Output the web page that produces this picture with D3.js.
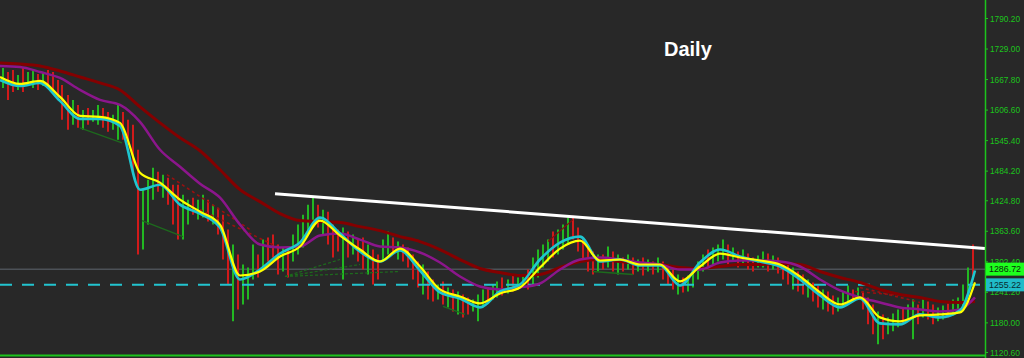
<!DOCTYPE html>
<html><head><meta charset="utf-8">
<script src="https://cdn.jsdelivr.net/npm/d3@7"></script>
<style>html,body{margin:0;padding:0;background:#282828;overflow:hidden}</style>
</head><body><svg id="c" width="1024" height="358"></svg>
<script>
// ---- data (daily bars: high / low / direction) ----
const highs=[1690,1682,1686,1676,1690,1682,1686,1678,1682,1686,
1682,1666,1656,1636,1626,1616,1606,1610,1606,1616,
1610,1602,1596,1616,1602,1586,1576,1526,1446,1466,
1490,1482,1476,1470,1456,1456,1436,1426,1430,1426,
1436,1426,1416,1410,1396,1366,1336,1316,1296,1290,
1336,1316,1346,1350,1356,1336,1330,1326,1356,1376,
1396,1416,1430,1416,1406,1402,1376,1366,1370,1362,
1356,1346,1350,1336,1326,1316,1346,1362,1350,1342,
1336,1330,1316,1302,1296,1282,1266,1256,1262,1250,
1246,1242,1236,1230,1226,1236,1246,1250,1256,1262,
1270,1266,1274,1270,1276,1286,1310,1326,1336,1346,
1362,1366,1376,1390,1394,1370,1350,1336,1322,1316,
1316,1332,1322,1316,1310,1316,1310,1306,1310,1306,
1302,1310,1302,1296,1286,1276,1270,1274,1290,1302,
1316,1326,1330,1336,1346,1336,1330,1322,1326,1318,
1310,1314,1322,1318,1314,1310,1302,1296,1290,1282,
1276,1266,1260,1254,1246,1242,1234,1230,1242,1254,
1246,1250,1242,1230,1216,1202,1196,1190,1198,1206,
1210,1216,1226,1216,1226,1222,1216,1210,1214,1218,
1226,1230,1256,1290,1336];
const lows=[1650,1626,1642,1646,1642,1656,1650,1646,1654,1650,
1642,1626,1586,1566,1576,1570,1566,1576,1582,1576,
1570,1562,1566,1546,1546,1536,1476,1316,1326,1376,
1426,1442,1430,1416,1376,1346,1346,1376,1396,1386,
1390,1382,1376,1356,1306,1256,1182,1206,1216,1226,
1266,1270,1286,1302,1310,1276,1282,1270,1302,1316,
1330,1356,1376,1370,1356,1336,1310,1322,1266,1310,
1316,1302,1286,1276,1256,1266,1302,1316,1322,1306,
1302,1290,1266,1250,1236,1226,1222,1226,1216,1210,
1202,1196,1190,1196,1202,1182,1210,1222,1226,1230,
1234,1238,1242,1246,1250,1246,1256,1270,1290,1302,
1310,1316,1326,1336,1346,1322,1302,1282,1276,1282,
1286,1290,1282,1276,1282,1286,1276,1282,1274,1282,
1276,1280,1266,1256,1246,1236,1240,1242,1250,1266,
1282,1290,1296,1302,1306,1296,1302,1290,1296,1286,
1282,1290,1290,1282,1286,1278,1266,1256,1246,1242,
1236,1230,1222,1210,1206,1202,1196,1202,1210,1218,
1222,1226,1206,1176,1156,1136,1146,1156,1162,1170,
1176,1182,1146,1176,1190,1186,1176,1182,1186,1190,
1194,1202,1206,1236,1266];
const directions="udduduudud"+"ddddududuu"+"dduudddduu"+"ududdduudu"+"ududdduduu"+
"ududdduduu"+"uuududddud"+"uddudduudu"+"dddduddudu"+"dudduuuduu"+
"duduuduuuu"+"duuudddddu"+"dududududu"+"duddduduuu"+"uduuududud"+
"duududddud"+"duddudduuu"+"duddduduuu"+"duududduud"+"uuuud";

// ---- moving averages, sampled every 4 days (last point = day 195) ----
const maDays=d3.range(0,193,4).concat([195]);
const maFast=[1672,1658,1664,1632,1594,1592,1580,1480,1460,1426,
1402,1376,1274,1282,1312,1332,1384,1354,1326,1302,
1328,1292,1246,1232,1218,1238,1250,1290,1328,1344,
1304,1306,1296,1296,1262,1292,1318,1310,1304,1296,
1272,1240,1216,1230,1190,1182,1194,1196,1200,1260];
const maSignal=[1666,1654,1660,1624,1588,1588,1574,1446,1456,1416,
1398,1370,1266,1286,1318,1340,1390,1358,1322,1302,
1324,1284,1240,1228,1210,1242,1256,1306,1340,1352,
1302,1306,1294,1294,1254,1300,1326,1312,1302,1292,
1266,1234,1210,1228,1178,1176,1196,1190,1204,1284];
const maMid=[1694,1692,1682,1670,1646,1626,1616,1582,1526,1492,
1458,1430,1376,1336,1330,1332,1354,1358,1346,1332,
1330,1320,1300,1272,1252,1246,1250,1258,1286,1306,
1310,1306,1300,1296,1286,1286,1300,1304,1304,1302,
1292,1266,1244,1230,1220,1210,1206,1202,1206,1230];
const maSlow=[1700,1698,1694,1684,1672,1660,1646,1612,1580,1550,
1524,1486,1446,1422,1398,1384,1382,1380,1372,1364,
1352,1342,1326,1306,1288,1280,1274,1276,1290,1302,
1306,1302,1298,1296,1290,1288,1292,1296,1296,1298,
1296,1282,1270,1260,1246,1236,1230,1222,1220,1222];

const tickValues=[1790.2,1729.0,1667.8,1606.6,1545.4,1484.2,1424.8,1363.6,1302.4,1241.2,1180.0,1120.6];
const tickLabels=["1790.20","1729.00","1667.80","1606.60","1545.40","1484.20","1424.80","1363.60","1302.40","1241.20","1180.00","1120.60"];
const bidLevel={value:1286.72,label:"1286.72"};
const levelLine={value:1255.22,label:"1255.22"};
const resistance=[[55,1438],[197,1328]];
const greenLines=[[[16,1570],[24.4,1540]],[[28.4,1384],[36.6,1352]],[[88.6,1212],[93,1196]],[[118.6,1282],[126.6,1276]]];
const greenDashed=[[[57,1272],[68,1306]],[[57,1272],[72,1296]],[[57,1272],[80,1282]]];
const redDashed=[[[33.4,1476],[50,1366]],[[40,1406],[55.4,1332]],[[172,1250],[184,1220]],[[171,1242],[183,1232]]];
const redLines=[[[109.6,1342],[114.6,1386]]];
const title="Daily";

// ---- drawing ----
const svg=d3.select("#c");
const W=985;
svg.append("rect").attr("width",1024).attr("height",358).attr("fill","#282828");
const x=d3.scaleLinear().domain([0,195]).range([0,975]);
const y=d3.scaleLinear().domain([1120.6,1790.2]).range([352,18]);
const plot=svg.append("g");

// horizontal bid line
plot.append("line").attr("x1",0).attr("x2",W).attr("y1",y(bidLevel.value)).attr("y2",y(bidLevel.value))
  .attr("stroke","#4c5157").attr("stroke-width",1.5);

// candles
plot.append("g").selectAll("line").data(highs).join("line")
  .attr("x1",(d,i)=>Math.round(x(i+0.5))).attr("x2",(d,i)=>Math.round(x(i+0.5)))
  .attr("y1",d=>y(d)).attr("y2",(d,i)=>y(lows[i]))
  .attr("stroke",(d,i)=>directions[i]==="d"?"#d11a1a":"#22b822")
  .attr("stroke-width",2);

// cyan dashed level
plot.append("line").attr("x1",0).attr("x2",W).attr("y1",y(levelLine.value)).attr("y2",y(levelLine.value))
  .attr("stroke","#22c4cf").attr("stroke-width",2).attr("stroke-dasharray","12,10");

const seg=(arr,stroke,w,dash)=>{
  arr.forEach(s=>{
    plot.append("line").attr("x1",x(s[0][0])).attr("y1",y(s[0][1])).attr("x2",x(s[1][0])).attr("y2",y(s[1][1]))
      .attr("stroke",stroke).attr("stroke-width",w).attr("stroke-dasharray",dash||null);
  });
};
seg(greenLines,"#1d6a1d",1.3);
seg(greenDashed,"#1d6a1d",1.2,"3,2");
seg(redDashed,"#9a1010",1.6,"3,3");
seg(redLines,"#8a0c0c",1.2);

// moving averages
const line=d3.line().x(d=>x(d[0])).y(d=>y(d[1])).curve(d3.curveMonotoneX);
const ma=(vals,color,w)=>plot.append("path").datum(maDays.map((d,i)=>[d,vals[i]]))
  .attr("d",line).attr("fill","none").attr("stroke",color).attr("stroke-width",w).attr("stroke-linejoin","round");
ma(maSlow,"#840000",3);
ma(maMid,"#8c168c",2.5);
ma(maSignal,"#1ec6d0",2.6);
ma(maFast,"#ffff00",2.2);

// resistance trendline
plot.append("line").attr("x1",x(resistance[0][0])).attr("y1",y(resistance[0][1]))
  .attr("x2",x(resistance[1][0])).attr("y2",y(resistance[1][1]))
  .attr("stroke","#ffffff").attr("stroke-width",3);

// title
svg.append("text").attr("x",664).attr("y",56).text(title)
  .attr("fill","#ffffff").attr("font-family","Liberation Sans, Arial, sans-serif")
  .attr("font-weight","bold").attr("font-size",20);

// axis
const axis=d3.axisRight(y).tickValues(tickValues).tickFormat((d,i)=>tickLabels[i]).tickSize(3).tickSizeOuter(0);
const ag=svg.append("g").attr("transform",`translate(${W},0)`).call(axis);
ag.select(".domain").remove();
ag.selectAll(".tick line").attr("stroke","#1cc41c");
ag.selectAll(".tick text").attr("x",5).attr("fill","#1cc41c")
  .attr("font-family","Liberation Sans, Arial, sans-serif").attr("font-size",9.5)
  .attr("textLength",30).attr("lengthAdjust","spacingAndGlyphs");
svg.append("line").attr("x1",W+0.5).attr("x2",W+0.5).attr("y1",0).attr("y2",358).attr("stroke","#1cc41c").attr("stroke-width",1.5);
svg.append("line").attr("x1",0).attr("x2",W).attr("y1",355.5).attr("y2",355.5).attr("stroke","#1cc41c").attr("stroke-width",2);

// price tags (cover the tick labels beneath, as in the reference)
const tag=(lv,bg,fg)=>{
  const g=svg.append("g").attr("transform",`translate(${W+1},${y(lv.value)})`);
  g.append("rect").attr("x",0).attr("y",-6.5).attr("width",38).attr("height",13).attr("fill",bg);
  g.append("text").attr("x",3).attr("y",0).attr("dy","0.35em").text(lv.label).attr("fill",fg)
   .attr("font-family","Liberation Sans, Arial, sans-serif").attr("font-size",9.5)
   .attr("textLength",32).attr("lengthAdjust","spacingAndGlyphs");
};
tag(bidLevel,"#1eff1e","#0a2a0a");
tag(levelLine,"#20bcc8","#0b2b30");
</script></body></html>
